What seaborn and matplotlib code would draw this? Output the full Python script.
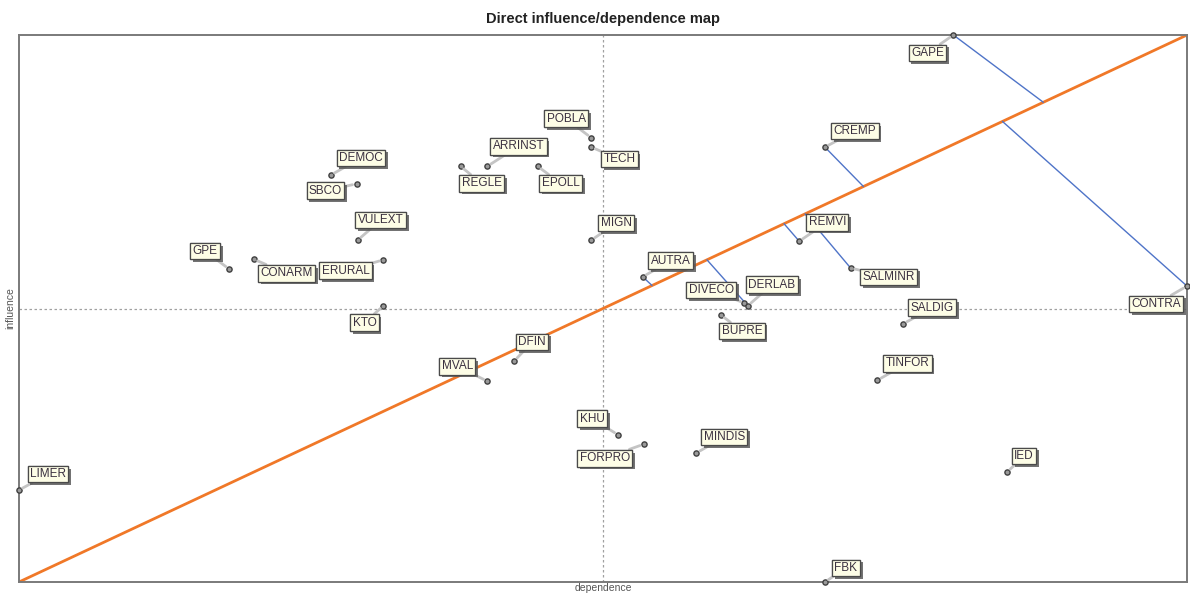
import numpy as np
import pandas as pd
import seaborn as sns
import matplotlib.pyplot as plt
import matplotlib.patheffects as pe

# variables: dependence (x) and influence (y), scaled 0-1000
variables = ["GAPE", "CREMP", "POBLA", "TECH", "ARRINST", "REGLE", "EPOLL", "DEMOC",
             "SBCO", "VULEXT", "GPE", "CONARM", "ERURAL", "KTO", "MIGN", "AUTRA",
             "DIVECO", "DERLAB", "BUPRE", "DFIN", "MVAL", "REMVI", "SALMINR", "SALDIG",
             "CONTRA", "TINFOR", "KHU", "FORPRO", "MINDIS", "IED", "LIMER", "FBK"]
dependence = [800, 690, 490, 490, 401, 378, 444, 267,
              289, 290, 180, 201, 312, 312, 490, 534,
              621, 624, 601, 424, 401, 668, 712, 757,
              1000, 735, 513, 535, 580, 846, 0, 690]
influence = [1000, 795, 812, 795, 760, 760, 760, 744,
             728, 625, 572, 590, 589, 505, 625, 558,
             510, 505, 488, 404, 367, 623, 574, 472,
             541, 369, 269, 252, 236, 201, 168, 0]

# displacement lines: variable -> dependence value where the line meets the diagonal
shift_vars = ["GAPE", "CONTRA", "CREMP", "SALMINR", "REMVI", "DERLAB", "AUTRA"]
shift_foot = [877, 842, 723, 673, 655, 589, 542]

# label offsets in pixels (layout only)
label_offsets = {
    "GAPE": (-26, -18), "CREMP": (30, 16), "POBLA": (-25, 19), "TECH": (28, -12),
    "ARRINST": (31, 20), "REGLE": (21, -17), "EPOLL": (23, -17), "DEMOC": (30, 17),
    "SBCO": (-31, -7), "VULEXT": (23, 20), "GPE": (-24, 18), "CONARM": (33, -14),
    "ERURAL": (-38, -11), "KTO": (-19, -17), "MIGN": (25, 17), "AUTRA": (28, 16),
    "DIVECO": (-33, 13), "DERLAB": (24, 21), "BUPRE": (21, -16), "DFIN": (18, 19),
    "MVAL": (-30, 15), "REMVI": (28, 19), "SALMINR": (38, -9), "SALDIG": (29, 16),
    "CONTRA": (-31, -18), "TINFOR": (30, 17), "KHU": (-26, 16), "FORPRO": (-39, -14),
    "MINDIS": (28, 16), "IED": (17, 16), "LIMER": (29, 16), "FBK": (21, 14),
}

df = pd.DataFrame({"variable": variables, "dependence": dependence, "influence": influence})

sns.set_style("white")
plt.rcParams['font.family'] = ['Liberation Sans', 'DejaVu Sans']

fig = plt.figure(figsize=(11.9, 5.95), dpi=100)
ax = fig.add_axes([19 / 1190, 13 / 595, 1168 / 1190, 547 / 595])
ax.set_xlim(0, 1000)
ax.set_ylim(0, 1000)

# crosshair at the mean
ax.axvline(500, color="#a0a0a0", lw=0.9, ls=(0, (2, 2)), zorder=1)
ax.axhline(500, color="#a0a0a0", lw=0.9, ls=(0, (2, 2)), zorder=1)

# diagonal
ax.plot([0, 1000], [0, 1000], color="#f07828", lw=2, zorder=2)

# displacement lines to the diagonal
pos = df.set_index("variable")
for v, fx in zip(shift_vars, shift_foot):
    ax.plot([pos.loc[v, "dependence"], fx], [pos.loc[v, "influence"], fx],
            color="#4f74c8", lw=1, zorder=2)

sns.scatterplot(data=df, x="dependence", y="influence", ax=ax, s=14,
                color="#9a9a9a", edgecolor="#404040", linewidth=1.0,
                zorder=5, clip_on=False, legend=False)

for v, x, y in zip(variables, dependence, influence):
    dx, dy = label_offsets[v]
    ann = ax.annotate(v, (x, y), xytext=(dx, dy), textcoords="offset pixels",
                      ha="center", va="center", fontsize=8.5, color="#3a3040",
                      bbox=dict(boxstyle="square,pad=0.2", fc="#fdfde6",
                                ec="#4a4a4a", lw=0.9),
                      arrowprops=dict(arrowstyle="-", color="#c4c4c4", lw=2,
                                      shrinkA=0, shrinkB=3),
                      zorder=6, annotation_clip=False)
    ann.get_bbox_patch().set_path_effects(
        [pe.withSimplePatchShadow(offset=(2, -2), shadow_rgbFace="#5a5a5a", alpha=0.85),
         pe.Normal()])

for s in ax.spines.values():
    s.set_color("#7a7a7a")
    s.set_linewidth(1.4)
ax.set_xticks([])
ax.set_yticks([])
ax.set_xlabel("dependence", fontsize=7.5, color="#555555", labelpad=1)
ax.set_ylabel("influence", fontsize=7.5, color="#555555", labelpad=3)
ax.set_title("Direct influence/dependence map", fontsize=10.5, fontweight="bold",
             color="#222222", pad=9)

fig.savefig("out.png", dpi=100)
